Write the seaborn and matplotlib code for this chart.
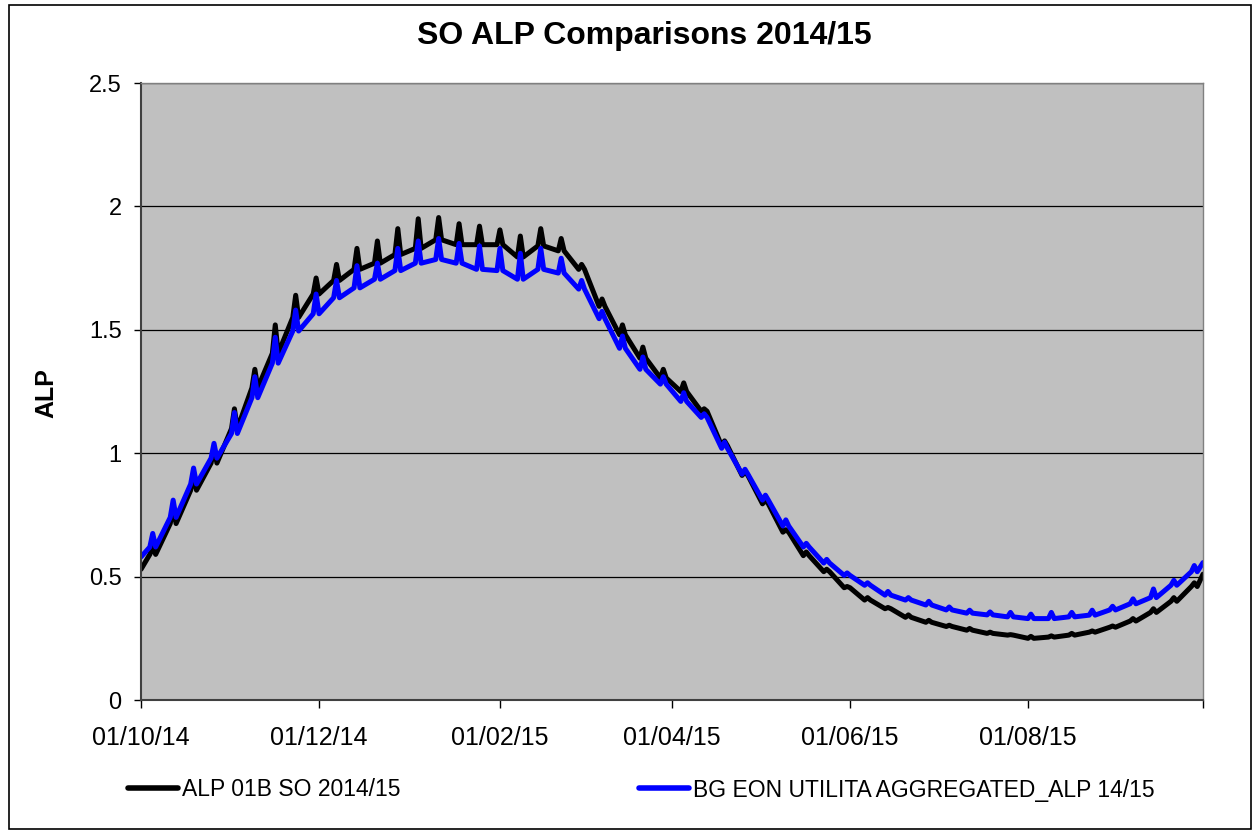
import numpy as np
import pandas as pd
import seaborn as sns
import matplotlib.pyplot as plt
from matplotlib.patches import Rectangle

# Weekly readings: level on the Saturday before each Sunday spike, and the Sunday peak
sundays = pd.date_range("2014-10-05", periods=52, freq="7D")
start_date = pd.Timestamp("2014-10-01")
end_date = pd.Timestamp("2015-09-30")

alp_start, alp_end = 0.53, 0.51
alp_sat = [0.59, 0.715, 0.85, 0.96, 1.10, 1.265, 1.405, 1.55, 1.645, 1.70,
           1.745, 1.77, 1.805, 1.83, 1.865, 1.845, 1.845, 1.845, 1.795, 1.84,
           1.82, 1.745, 1.595, 1.48, 1.385, 1.305, 1.25, 1.17, 1.03, 0.91,
           0.795, 0.68, 0.585, 0.52, 0.455, 0.405, 0.37, 0.335, 0.315, 0.298,
           0.283, 0.27, 0.263, 0.25, 0.255, 0.263, 0.275, 0.295, 0.32, 0.355,
           0.40, 0.46]
alp_sun = [0.62, 0.78, 0.91, 1.02, 1.18, 1.34, 1.52, 1.64, 1.71, 1.765,
           1.83, 1.86, 1.91, 1.95, 1.955, 1.93, 1.92, 1.905, 1.88, 1.91,
           1.87, 1.765, 1.625, 1.52, 1.43, 1.34, 1.285, 1.18, 1.05, 0.925,
           0.81, 0.69, 0.60, 0.53, 0.46, 0.415, 0.375, 0.345, 0.323, 0.303,
           0.29, 0.275, 0.265, 0.258, 0.26, 0.27, 0.28, 0.30, 0.33, 0.37,
           0.415, 0.475]

eon_start, eon_end = 0.58, 0.557
eon_sat = [0.62, 0.74, 0.875, 0.98, 1.08, 1.225, 1.365, 1.495, 1.565, 1.63,
           1.67, 1.705, 1.74, 1.77, 1.785, 1.77, 1.745, 1.74, 1.705, 1.745,
           1.73, 1.665, 1.545, 1.425, 1.34, 1.28, 1.21, 1.145, 1.02, 0.915,
           0.81, 0.705, 0.62, 0.555, 0.505, 0.465, 0.425, 0.405, 0.385, 0.365,
           0.352, 0.345, 0.337, 0.33, 0.33, 0.337, 0.344, 0.365, 0.39, 0.415,
           0.465, 0.52]
eon_sun = [0.675, 0.81, 0.94, 1.04, 1.165, 1.31, 1.47, 1.58, 1.645, 1.70,
           1.76, 1.77, 1.83, 1.86, 1.87, 1.85, 1.84, 1.83, 1.81, 1.83,
           1.79, 1.70, 1.575, 1.475, 1.39, 1.31, 1.245, 1.16, 1.045, 0.935,
           0.83, 0.73, 0.635, 0.57, 0.515, 0.475, 0.44, 0.415, 0.40, 0.377,
           0.364, 0.357, 0.355, 0.348, 0.355, 0.355, 0.364, 0.38, 0.41, 0.45,
           0.485, 0.545]

series_names = ["ALP 01B SO 2014/15", "BG EON UTILITA AGGREGATED_ALP 14/15"]
series_colors = ["#000000", "#0000FF"]
tick_dates = ["2014-10-01", "2014-12-01", "2015-02-01", "2015-04-01",
              "2015-06-01", "2015-08-01", "2015-09-30"]


def build_path(name, start, sat, sun, end):
    """Sawtooth path: weekday level, Sunday spike, back to level on Monday."""
    one = pd.Timedelta(days=1)
    dates, vals = [start_date], [start]
    for d, lo, hi in zip(sundays, sat, sun):
        dates += [d - one, d, d + one]
        vals += [lo, hi, lo]
    dates.append(end_date)
    vals.append(end)
    return pd.DataFrame({"date": dates, "ALP": vals, "series": name})


df = pd.concat([
    build_path(series_names[0], alp_start, alp_sat, alp_sun, alp_end),
    build_path(series_names[1], eon_start, eon_sat, eon_sun, eon_end),
], ignore_index=True)

sns.set_style("white")
plt.rcParams["font.family"] = ["Liberation Sans", "DejaVu Sans"]
plt.rcParams.update({"text.color": "black", "axes.labelcolor": "black",
                     "xtick.color": "black", "ytick.color": "black"})

fig = plt.figure(figsize=(12.55, 8.31), dpi=100)
ax = fig.add_axes([0.1124, 0.1576, 0.8462, 0.7425])
ax.set_facecolor("#C0C0C0")

sns.lineplot(data=df, x="date", y="ALP", hue="series", hue_order=series_names,
             palette=dict(zip(series_names, series_colors)), estimator=None,
             sort=False, linewidth=3.6, ax=ax)

ax.set_ylim(0, 2.5)
ax.set_yticks([0, 0.5, 1, 1.5, 2, 2.5])
ax.set_yticklabels(["0", "0.5", "1", "1.5", "2", "2.5"])
ax.yaxis.grid(True, color="black", linewidth=0.9)
ax.xaxis.grid(False)
ax.set_axisbelow(True)

ax.set_xlim(start_date, end_date)
ticks = pd.to_datetime(tick_dates)
ax.set_xticks(ticks)
ax.set_xticklabels([t.strftime("%d/%m/%y") for t in ticks[:-1]] + [""])

ax.tick_params(axis="x", direction="out", length=6, width=1, pad=13,
               labelsize=18, bottom=True)
ax.tick_params(axis="y", direction="out", length=5, width=1, pad=9,
               labelsize=17, left=True)

for side in ["left", "bottom"]:
    ax.spines[side].set_color("#404040")
    ax.spines[side].set_linewidth(1.5)
for side in ["top", "right"]:
    ax.spines[side].set_color("#808080")
    ax.spines[side].set_linewidth(1.0)

ax.set_xlabel("")
ax.set_ylabel("ALP", fontsize=18, fontweight="bold")
ax.yaxis.set_label_coords(-0.078, 0.497)

fig.text(0.513, 0.957, "SO ALP Comparisons 2014/15", ha="center", va="center",
         fontsize=23, fontweight="bold")

handles, labels = ax.get_legend_handles_labels()
ax.get_legend().remove()
leg = fig.legend(handles, labels, ncol=2, loc="center left",
                 bbox_to_anchor=(0.102, 1 - 790 / 831), frameon=False,
                 fontsize=16.5, handlelength=2.2, handletextpad=0.15,
                 columnspacing=10.4, borderpad=0, borderaxespad=0)
for line in leg.get_lines():
    line.set_linewidth(4)

fig.patches.append(Rectangle((9 / 1255, 2 / 831), 1242 / 1255, 824 / 831,
                             transform=fig.transFigure, fill=False,
                             edgecolor="black", linewidth=1.2))

fig.savefig("out.png", dpi=100)
